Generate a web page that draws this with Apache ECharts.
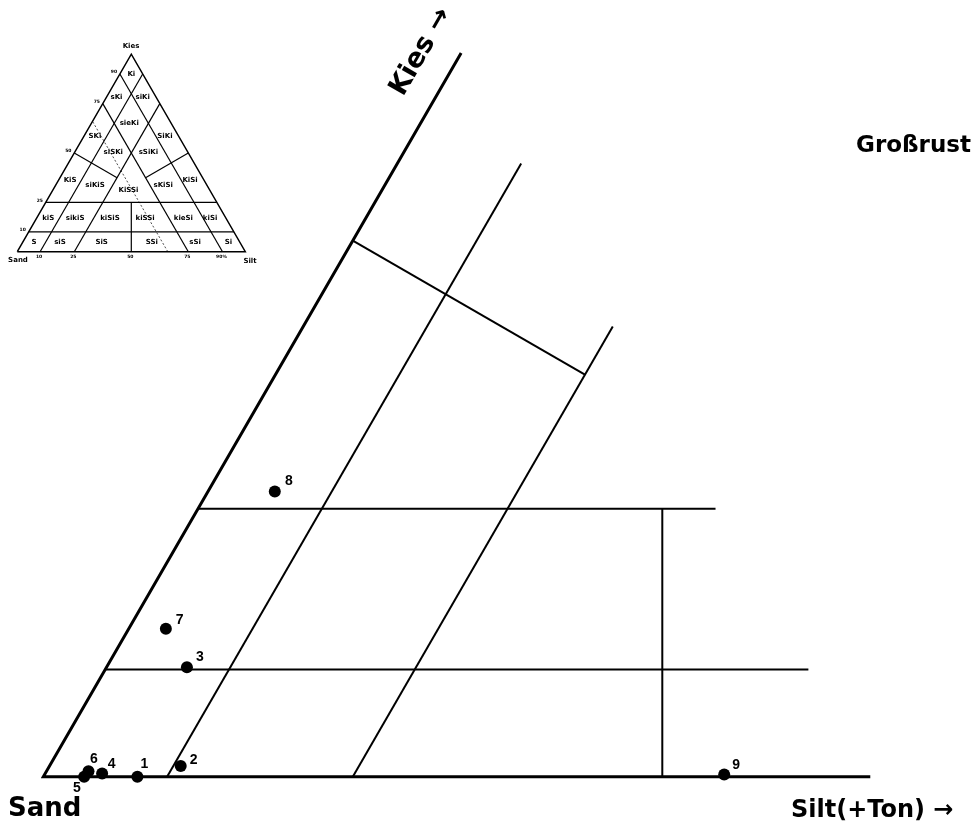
<!DOCTYPE html>
<html><head><meta charset="utf-8">
<script src="https://cdn.jsdelivr.net/npm/echarts@6/dist/echarts.min.js"></script>
<style>html,body{margin:0;padding:0;background:#fff}#chart{width:978px;height:825px}</style>
</head><body><div id="chart"></div>
<script>
// ===== DATA (ternary coordinates: [Silt %, Kies %]) =====
const sampleIds  = ['1','2','3','4','5','6','7','8','9'];
const sampleSilt = [7.6, 10.6, 6.5, 4.6, 3.3, 3.4, 3.0, 5.4, 54.9];
const sampleKies = [0.0, 1.0, 10.2, 0.3, 0.0, 0.5, 13.8, 26.6, 0.2];

// enlarged main diagram: frame (Kies edge + Sand-Silt base) and class boundaries
const mainFrame = [[0, 67.5], [0, 0], [66.8, 0]];
const mainBoundaries = [
  [[10, 0], [10, 57.2]],     // Silt 10 %
  [[25, 0], [25, 42]],       // Silt 25 %
  [[0, 10], [56.8, 10]],     // Kies 10 %
  [[0, 25], [41.8, 25]],     // Kies 25 %
  [[50, 0], [37.5, 25]],     // Sand = Silt
  [[0, 50], [25, 37.5]]      // Kies 50 %
];

// small overview triangle
const insetFrame = [[0, 0], [100, 0], [0, 100], [0, 0]];
const insetBoundaries = [
  [[0, 10], [90, 10]],
  [[0, 25], [75, 25]],
  [[10, 0], [10, 90]],
  [[25, 0], [25, 75]],
  [[90, 0], [0, 90]],
  [[75, 0], [0, 75]],
  [[50, 0], [37.5, 25]],
  [[0, 50], [25, 37.5]],
  [[50, 50], [37.5, 37.5]]
];
const insetEnlargedLimit = [[66, 0], [0, 66]];
const insetCellNames = ['Ki','sKi','siKi','sieKi','SKi','SiKi','siSKi','sSiKi',
  'KiS','siKiS','KiSSi','sKiSi','KiSi',
  'kiS','sikiS','kiSiS','kiSSi','kieSi','kiSi',
  'S','siS','SiS','SSi','sSi','Si'];
const insetCellSilt = [5, 4.5, 16, 16.6, 4.7, 35.4, 16.8, 32.2,
  5, 17.2, 33.1, 47.1, 57.6,
  5.1, 16.9, 32.2, 47.6, 64.4, 76.1,
  5, 16.4, 34.7, 56.7, 75.7, 90.3];
const insetCellKies = [90, 78, 78, 65, 58.7, 58.7, 50.6, 50.6,
  36.3, 33.8, 31.3, 33.8, 36.3,
  16.9, 16.9, 16.9, 16.9, 16.9, 16.9,
  4.6, 4.6, 4.6, 4.6, 4.6, 4.6];
const insetKiesTicks = ['90','75','50','25','10'];
const insetKiesTickVals = [90, 75, 50, 25, 10];
const insetSiltTicks = ['10','25','50','75','90%'];
const insetSiltTickVals = [10, 25, 50, 75, 90];

// ===== STYLE =====
const labelOffsets = [[7,-12.5],[13,-6],[13,-10],[9.5,-9],[-7.3,11.6],[5.3,-11.7],[13.8,-9],[14,-10],[12,-9.3]];
const SQ = Math.sqrt(3) / 2;
function tern(silt, kies) { return [silt + kies / 2, kies * SQ]; }
const PX = 12.38;                 // main px per unit
const IPX = 2.28;                 // inset px per unit

function lineSeries(pts, g, width, dash) {
  return {
    type: 'line', xAxisIndex: g, yAxisIndex: g, silent: true, animation: false,
    clip: false, symbol: 'none',
    data: pts.map(p => tern(p[0], p[1])),
    lineStyle: { color: '#000', opacity: 1, width: width, type: dash ? [2, 2] : 'solid', cap: 'butt', join: 'miter' }
  };
}
function textScatter(names, silts, kieses, g, fontSize, offset) {
  return {
    type: 'scatter', xAxisIndex: g, yAxisIndex: g, silent: true, animation: false, clip: false,
    symbol: 'circle', symbolSize: 1, itemStyle: { color: 'rgba(0,0,0,0)', opacity: 1 },
    data: names.map((n, i) => ({ name: n, value: tern(silts[i], kieses[i]) })),
    label: { show: true, position: 'inside', formatter: '{b}', offset: offset || [0, 0],
      color: '#000', opacity: 1, fontFamily: 'DejaVu Sans', fontWeight: 'bold', fontSize: fontSize }
  };
}

const series = [];
series.push(lineSeries(mainFrame, 0, 3));
mainBoundaries.forEach(s => series.push(lineSeries(s, 0, 2)));
series.push(lineSeries(insetFrame, 1, 1.5));
insetBoundaries.forEach(s => series.push(lineSeries(s, 1, 1.2)));
series.push(lineSeries(insetEnlargedLimit, 1, 0.7, true));
series.push(textScatter(insetCellNames, insetCellSilt, insetCellKies, 1, 7));
series.push(textScatter(insetKiesTicks, insetKiesTickVals.map(() => 0), insetKiesTickVals, 1, 4.5, [-6, -2]));
series.push(textScatter(insetSiltTicks, insetSiltTickVals, insetSiltTickVals.map(() => 0), 1, 4.5, [-1, 5]));
series.push({
  type: 'scatter', xAxisIndex: 0, yAxisIndex: 0, animation: false, clip: false, silent: true,
  symbol: 'circle', symbolSize: 12, itemStyle: { color: '#000', opacity: 1 },
  data: sampleIds.map((id, i) => ({ name: id, value: tern(sampleSilt[i], sampleKies[i]),
    label: { offset: labelOffsets[i] } })),
  label: { show: true, position: 'inside', formatter: '{b}', color: '#000', opacity: 1,
    fontFamily: 'Liberation Sans', fontWeight: 'bold', fontSize: 14 }
});

function txt(text, x, y, font, align, valign, rot) {
  return { type: 'text', x: x, y: y, rotation: rot || 0, silent: true,
    style: { text: text, font: font, fill: '#000', align: align, verticalAlign: valign,
      textAlign: align, textVerticalAlign: valign } };
}

const chart = echarts.init(document.getElementById('chart'), null, { renderer: 'canvas' });
chart.setOption({
  backgroundColor: '#fff',
  animation: false,
  grid: [
    { left: 43.3, top: 776.7 - 62 * PX, width: 75 * PX, height: 62 * PX },
    { left: 17.3, top: 251.7 - 100 * SQ * IPX, width: 100 * IPX, height: 100 * SQ * IPX }
  ],
  xAxis: [
    { type: 'value', gridIndex: 0, min: 0, max: 75, show: false },
    { type: 'value', gridIndex: 1, min: 0, max: 100, show: false }
  ],
  yAxis: [
    { type: 'value', gridIndex: 0, min: 0, max: 62, show: false },
    { type: 'value', gridIndex: 1, min: 0, max: 100 * SQ, show: false }
  ],
  series: series,
  graphic: [
    txt('Sand', 8, 809, 'bold 26px "DejaVu Sans"', 'left', 'middle'),
    txt('Silt(+Ton) →', 791, 811, 'bold 24px "DejaVu Sans"', 'left', 'middle'),
    txt('Kies →', 421, 52, 'bold 27px "DejaVu Sans"', 'center', 'middle', Math.PI / 3),
    txt('Großrust', 971, 146.5, 'bold 23px "DejaVu Sans"', 'right', 'middle'),
    txt('Kies', 131, 45.7, 'bold 7px "DejaVu Sans"', 'center', 'middle'),
    txt('Sand', 18, 260, 'bold 7px "DejaVu Sans"', 'center', 'middle'),
    txt('Silt', 250, 261, 'bold 7px "DejaVu Sans"', 'center', 'middle')
  ]
});
</script></body></html>
